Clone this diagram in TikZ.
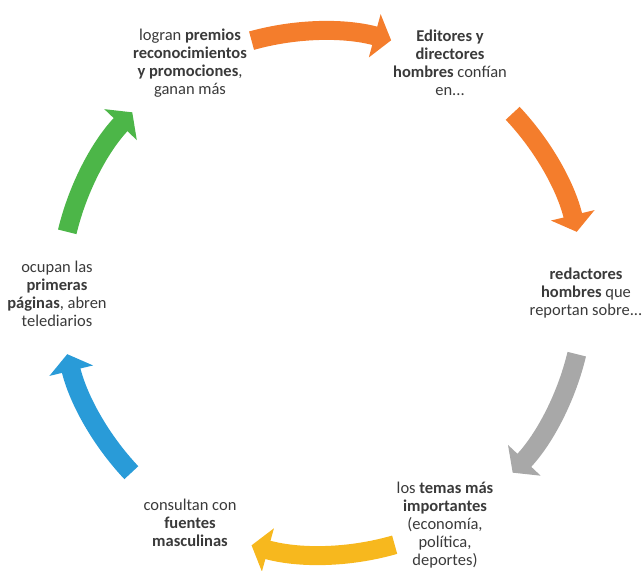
\documentclass[tikz,border=0pt]{standalone}
\usepackage{fontspec}
\setmainfont{Carlito}
\usepackage{xcolor}
\definecolor{ink}{RGB}{58, 58, 58}
\definecolor{orangearc}{RGB}{244, 125, 44}
\definecolor{grayarc}{RGB}{168, 168, 168}
\definecolor{yellowarc}{RGB}{247, 184, 30}
\definecolor{bluearc}{RGB}{41, 155, 216}
\definecolor{greenarc}{RGB}{76, 182, 72}
\usepackage{tikz}
\usetikzlibrary{arrows.meta,calc}

\begin{document}
\begin{tikzpicture}[x=1pt, y=1pt,
  steptext/.style={text=ink, align=center, inner sep=0pt, font=\fontsize{16.5}{18}\selectfont},
  cyclearrow/.style={line width=19pt, -{Triangle[width=44pt, length=17pt]}}
]
\useasboundingbox (0,0) rectangle (644,570);
\coordinate (c) at (322,277);

% the six steps
\node[steptext] (premios) at (190,507) {logran \textbf{premios}\\ \textbf{reconocimientos}\\ \textbf{y promociones},\\ ganan más};
\node[steptext] (editores) at (450,507) {\textbf{Editores y}\\ \textbf{directores}\\ \textbf{hombres} confían\\ en...};
\node[steptext] (redactores) at (586,277) {\textbf{redactores}\\ \textbf{hombres} que\\ reportan sobre...};
\node[steptext] (temas) at (445,45) {los \textbf{temas más}\\ \textbf{importantes}\\ (economía,\\ política,\\ deportes)};
\node[steptext] (fuentes) at (190,47) {consultan con\\ \textbf{fuentes}\\ \textbf{masculinas}};
\node[steptext] (paginas) at (57,276) {ocupan las\\ \textbf{primeras}\\ \textbf{páginas}, abren\\ telediarios};

% arrows round the circle
\coordinate (a1) at ($(c)+(105.6:262)$);
\coordinate (a2) at ($(c)+(43.3:262)$);
\coordinate (a3) at ($(c)+(-13.5:262)$);
\coordinate (a4) at ($(c)+(-73.9:262)$);
\coordinate (a5) at ($(c)+(-136.7:262)$);
\coordinate (a6) at ($(c)+(166.5:262)$);

\draw[cyclearrow, orangearc] (a1) arc[start angle=105.6, end angle=74.7, radius=262];
\draw[cyclearrow, orangearc] (a2) arc[start angle=43.3, end angle=13.5, radius=262];
\draw[cyclearrow, grayarc] (a3) arc[start angle=-13.5, end angle=-43.3, radius=262];
\draw[cyclearrow, yellowarc] (a4) arc[start angle=-73.9, end angle=-105.6, radius=262];
\draw[cyclearrow, bluearc] (a5) arc[start angle=-136.7, end angle=-166.5, radius=262];
\draw[cyclearrow, greenarc] (a6) arc[start angle=166.5, end angle=136.4, radius=262];
\end{tikzpicture}
\end{document}
